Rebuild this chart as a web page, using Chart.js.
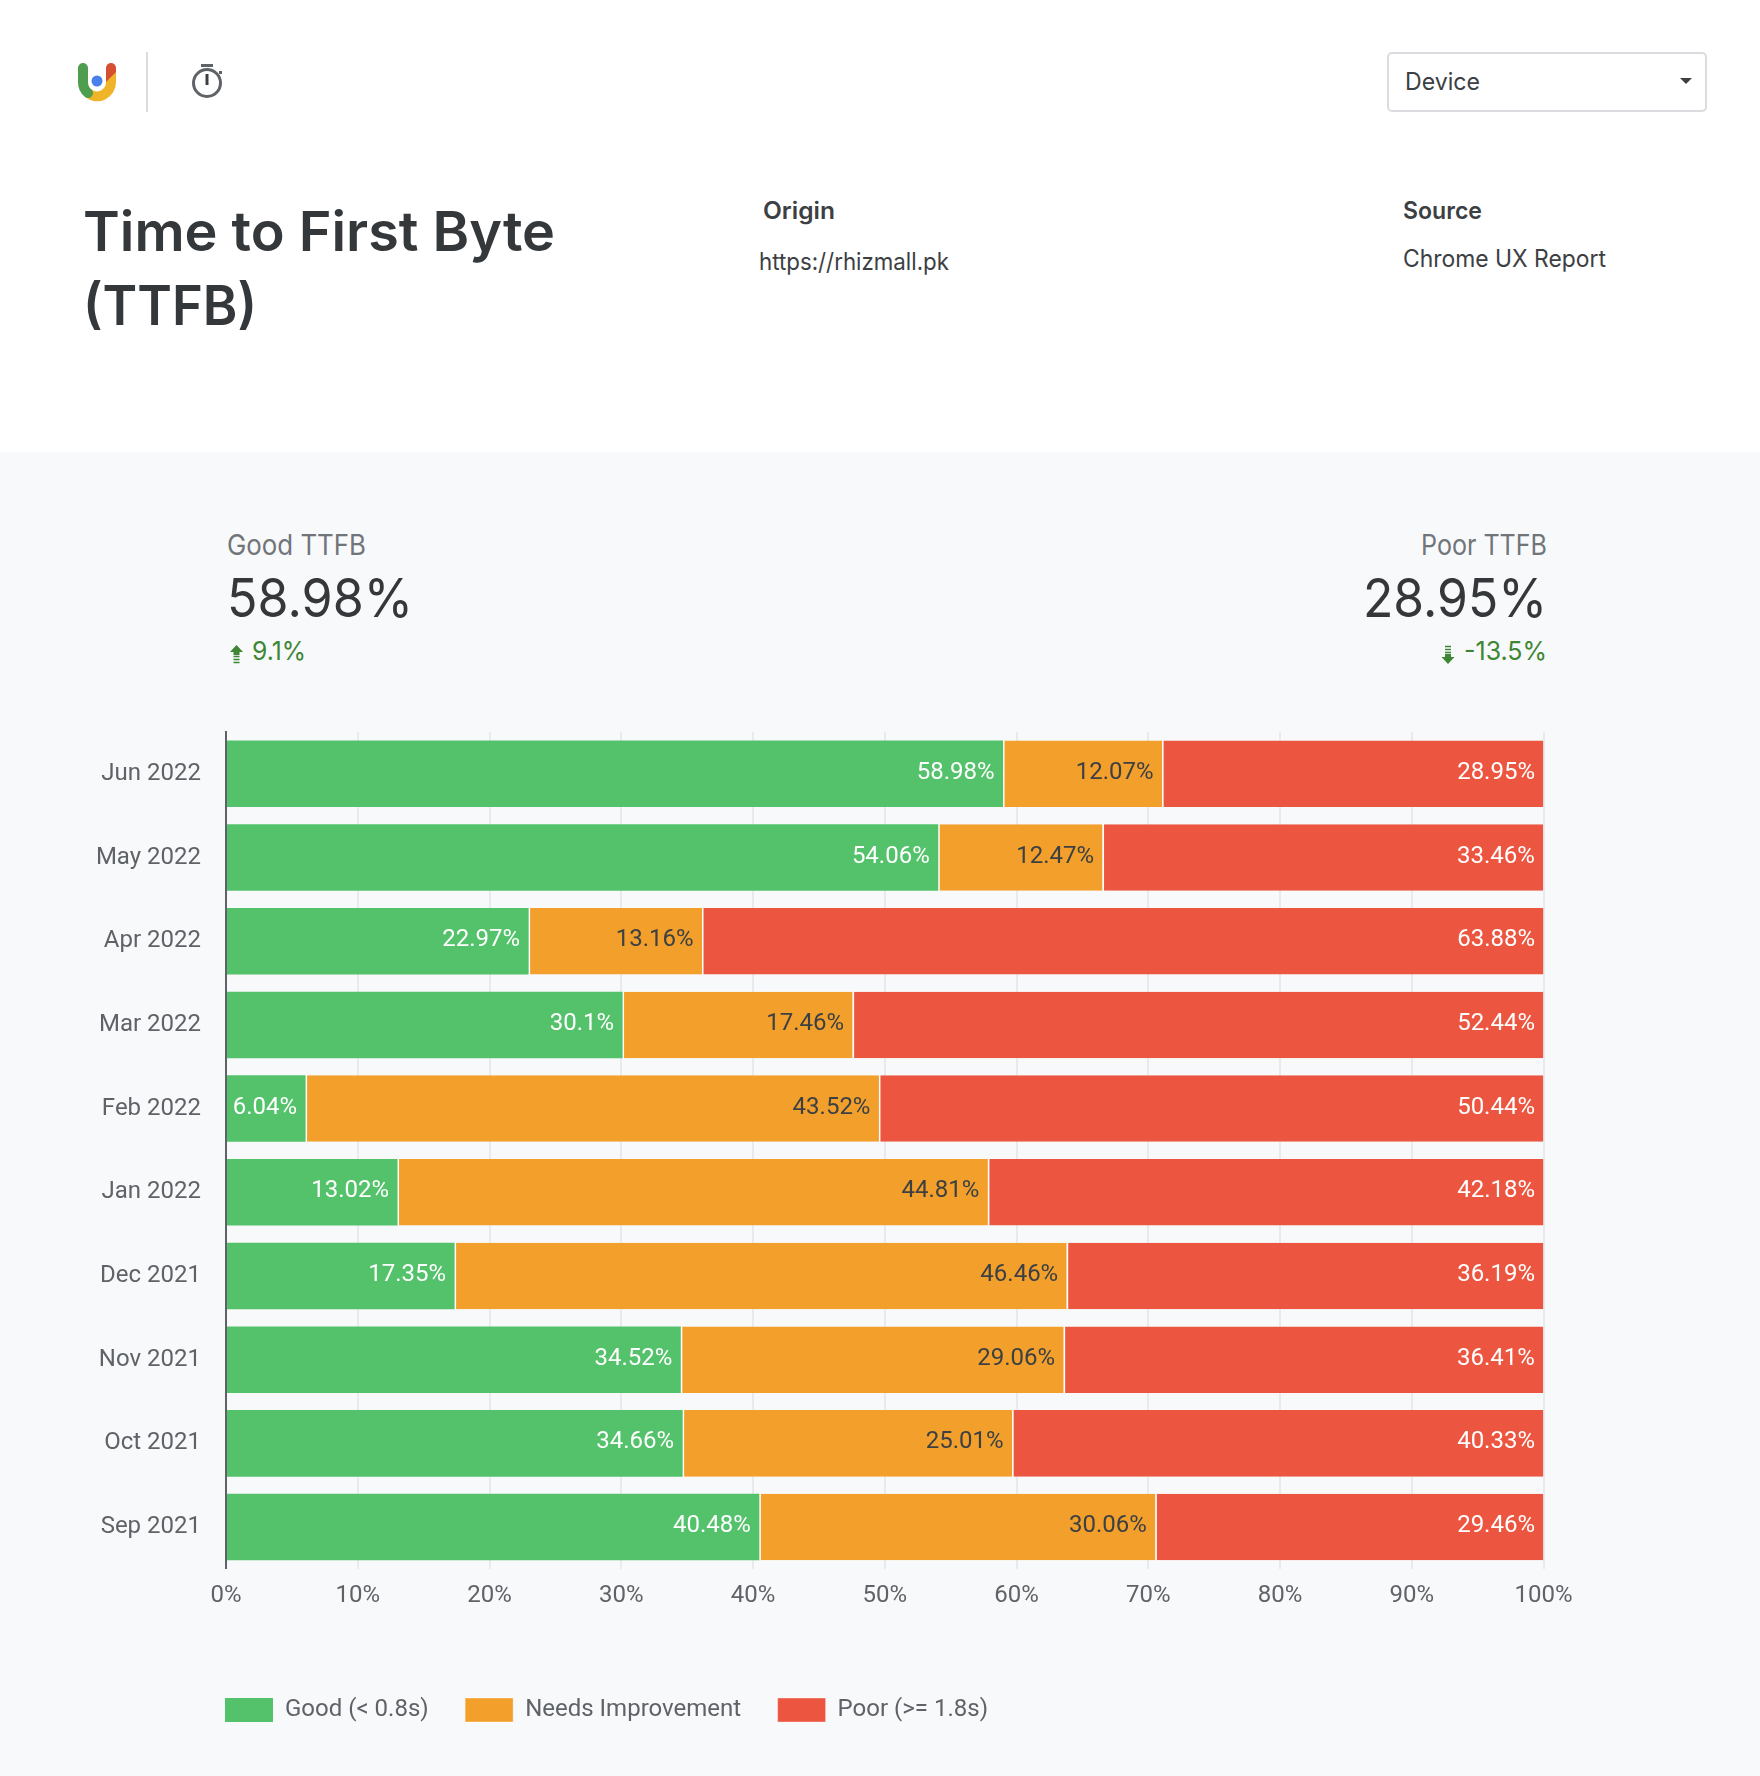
<!DOCTYPE html>
<html>
<head>
<meta charset="utf-8">
<title>Time to First Byte (TTFB)</title>
<script src="https://cdn.jsdelivr.net/npm/chart.js@4"></script>
<style>
  html, body { margin: 0; padding: 0; background: #fff; }
  #pagina { position: relative; width: 1760px; height: 1776px; overflow: hidden; background: #fff; }
  #fundo { position: absolute; left: 0; top: 452px; width: 1760px; height: 1324px; background: #f8f9fa; }
  #topo { position: absolute; left: 0; top: 0; }
  #topo text { font-family: Inter, "Open Sans", sans-serif; fill: #3c4043; }
  #grafico { position: absolute; left: 0; top: 700px; }
</style>
</head>
<body>
<div id="pagina">
  <div id="fundo"></div>
  <svg id="topo" width="1760" height="700" xmlns="http://www.w3.org/2000/svg">
    <!-- logo -->
    <path d="M88 93A14 14 0 0 0 111 82V71" fill="none" stroke="#f0b429" stroke-width="10"/>
    <path d="M83 68V82A14 14 0 0 0 88 93" fill="none" stroke="#4f9d4f" stroke-width="10" stroke-linecap="round"/>
    <path d="M106 68A5 5 0 0 1 116 68V72L106 82Z" fill="#d64f32"/>
    <circle cx="97" cy="81" r="5.5" fill="#4a80ec"/>
    <rect x="146" y="52" width="2" height="60" fill="#dadce0"/>
    <!-- timer -->
    <circle cx="207" cy="83" r="13.5" fill="none" stroke="#5f6368" stroke-width="3"/>
    <rect x="201" y="64" width="12" height="3" fill="#5f6368"/>
    <rect x="205.5" y="74" width="3" height="11" fill="#3c4043"/>
    <rect x="219" y="71" width="3" height="3" fill="#5f6368"/>

    <text x="83" y="251" font-size="55" font-weight="600" textLength="472" lengthAdjust="spacingAndGlyphs" style="fill:#35383b">Time to First Byte</text>
    <text x="83" y="325" font-size="55" font-weight="600" textLength="174" lengthAdjust="spacingAndGlyphs" style="fill:#35383b">(TTFB)</text>

    <text x="763" y="219" font-size="24" font-weight="600" textLength="72" lengthAdjust="spacingAndGlyphs">Origin</text>
    <text x="759" y="270" font-size="24" textLength="190" lengthAdjust="spacingAndGlyphs">https://rhizmall.pk</text>
    <text x="1403" y="219" font-size="24" font-weight="600" textLength="79" lengthAdjust="spacingAndGlyphs">Source</text>
    <text x="1403" y="267" font-size="24" textLength="203" lengthAdjust="spacingAndGlyphs">Chrome UX Report</text>

    <rect x="1388" y="53" width="318" height="58" rx="4" fill="#fff" stroke="#dadce0" stroke-width="2"/>
    <text x="1405" y="90" font-size="24" textLength="75" lengthAdjust="spacingAndGlyphs">Device</text>
    <path d="M1680 78H1692L1686 84Z" fill="#3c4043"/>

    <text x="227" y="555" font-size="28" textLength="139" lengthAdjust="spacingAndGlyphs" style="fill:#70757a">Good TTFB</text>
    <text x="227" y="617" font-size="54" textLength="186" lengthAdjust="spacingAndGlyphs" style="fill:#35383b">58.98%</text>
    <path d="M236.5 645L243 652H239.5V655H233.5V652H230Z" fill="#3e8635"/>
    <path d="M233.5 656.5H239.5M233.5 659.5H239.5M233.5 662.5H239.5" stroke="#3e8635" stroke-width="1.5"/>
    <text x="252" y="660" font-size="26" textLength="54" lengthAdjust="spacingAndGlyphs" style="fill:#3e8635">9.1%</text>

    <text x="1547" y="555" font-size="28" text-anchor="end" textLength="126" lengthAdjust="spacingAndGlyphs" style="fill:#70757a">Poor TTFB</text>
    <text x="1547" y="617" font-size="54" text-anchor="end" textLength="184" lengthAdjust="spacingAndGlyphs" style="fill:#35383b">28.95%</text>
    <path d="M1448 664L1441.5 657H1445V654H1451V657H1454.5Z" fill="#3e8635"/>
    <path d="M1445 646.5H1451M1445 649.5H1451M1445 652.5H1451" stroke="#3e8635" stroke-width="1.5"/>
    <text x="1547" y="660" font-size="26" text-anchor="end" textLength="83" lengthAdjust="spacingAndGlyphs" style="fill:#3e8635">-13.5%</text>
  </svg>
  <canvas id="grafico" width="1760" height="1076"></canvas>
</div>

<script>
const meses = ['Jun 2022', 'May 2022', 'Apr 2022', 'Mar 2022', 'Feb 2022', 'Jan 2022', 'Dec 2021', 'Nov 2021', 'Oct 2021', 'Sep 2021'];
const bom = [58.98, 54.06, 22.97, 30.1, 6.04, 13.02, 17.35, 34.52, 34.66, 40.48];
const melhorar = [12.07, 12.47, 13.16, 17.46, 43.52, 44.81, 46.46, 29.06, 25.01, 30.06];
const ruim = [28.95, 33.46, 63.88, 52.44, 50.44, 42.18, 36.19, 36.41, 40.33, 29.46];

const VERDE = '#54c26b';
const LARANJA = '#f29f2b';
const VERMELHO = '#ec5640';
const CINZA = '#5f6368';
const FONTE = { family: 'Roboto', size: 24 };
const ESPACO_LEGENDA = 36.5;

// escreve o valor no fim de cada segmento
const rotulos = {
  id: 'rotulos',
  afterLayout(chart) {
    // legenda alinhada com o eixo, nao com a borda do canvas
    chart.legend.left = 225 - ESPACO_LEGENDA;
  },
  afterDatasetsDraw(chart) {
    const ctx = chart.ctx;
    ctx.save();
    ctx.font = '24px Roboto';
    ctx.textAlign = 'right';
    ctx.textBaseline = 'middle';
    chart.data.datasets.forEach((ds, d) => {
      ctx.fillStyle = d === 1 ? '#3c4043' : '#fff';
      chart.getDatasetMeta(d).data.forEach((barra, i) => {
        ctx.fillText(ds.data[i] + '%', barra.x - 8.5, barra.y - 1);
      });
    });
    ctx.restore();
  }
};

new Chart(document.getElementById('grafico'), {
  type: 'bar',
  data: {
    labels: meses,
    datasets: [
      { label: 'Good (< 0.8s)', data: bom, backgroundColor: VERDE, borderWidth: 0 },
      { label: 'Needs Improvement', data: melhorar, backgroundColor: LARANJA, borderColor: '#fff', borderWidth: { left: 1.5 }, borderSkipped: false },
      { label: 'Poor (>= 1.8s)', data: ruim, backgroundColor: VERMELHO, borderColor: '#fff', borderWidth: { left: 1.5 }, borderSkipped: false }
    ]
  },
  options: {
    indexAxis: 'y',
    responsive: false,
    animation: false,
    barPercentage: 0.795,
    categoryPercentage: 1,
    layout: { padding: { left: 0, right: 216.5, top: 32, bottom: 44 } },
    scales: {
      x: {
        stacked: true,
        min: 0,
        max: 100,
        afterFit: (escala) => { escala.height = 92.6; },
        border: { display: false },
        grid: { color: '#e8eaed', lineWidth: 2, drawTicks: false },
        ticks: { stepSize: 10, color: CINZA, font: FONTE, padding: 13, maxRotation: 0, callback: (v) => v + '%' }
      },
      y: {
        stacked: true,
        afterFit: (escala) => { escala.width = 226; escala.paddingTop = 0; escala.paddingBottom = 0; },
        border: { color: CINZA, width: 2 },
        grid: { display: false, drawTicks: false },
        ticks: { color: CINZA, font: FONTE, padding: 25 }
      }
    },
    plugins: {
      tooltip: { enabled: false },
      legend: {
        position: 'bottom',
        align: 'start',
        labels: { boxWidth: 48, boxHeight: 24, padding: ESPACO_LEGENDA, color: CINZA, font: FONTE }
      }
    }
  },
  plugins: [rotulos]
});
</script>
</body>
</html>
